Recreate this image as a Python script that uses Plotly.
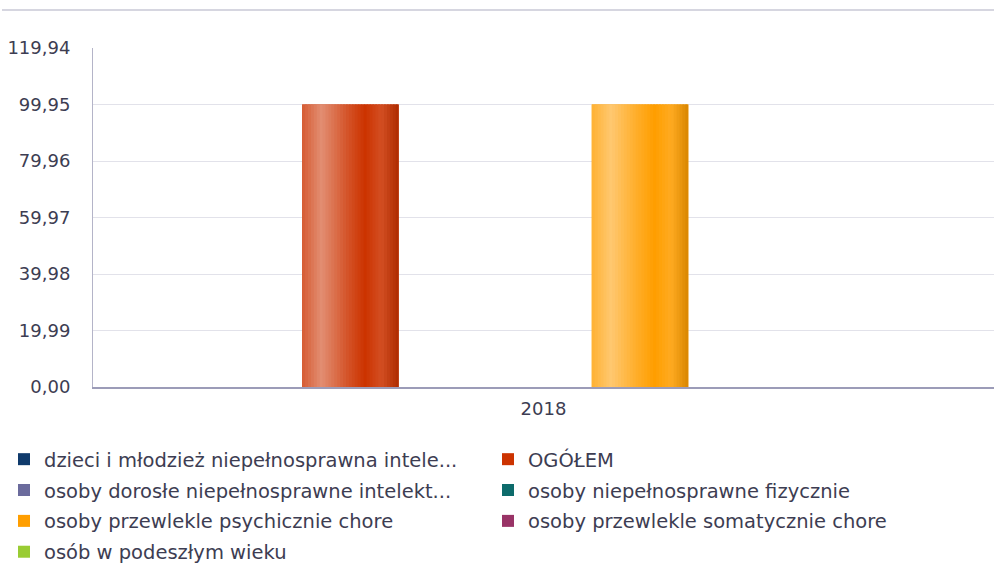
import plotly.graph_objects as go

# --- data -------------------------------------------------------------
categories = ["2018"]
series_names = [
    "dzieci i młodzież niepełnosprawna intele...",
    "OGÓŁEM",
    "osoby dorosłe niepełnosprawne intelekt...",
    "osoby niepełnosprawne fizycznie",
    "osoby przewlekle psychicznie chore",
    "osoby przewlekle somatycznie chore",
    "osób w podeszłym wieku",
]
values_2018 = [None, 99.95, None, None, 99.95, None, None]
y_ticks = [0.00, 19.99, 39.98, 59.97, 79.96, 99.95, 119.94]

# --- styling ----------------------------------------------------------
base_colors = ["#0f3a6b", "#cc3300", "#6b6b9c", "#0d6b6b", "#ff9e00", "#993366", "#99cc33"]
light_colors = ["#6a8ab0", "#e28e72", "#aaaacc", "#5aa0a0", "#ffc870", "#c47aa0", "#c4e480"]

FONT = "DejaVu Sans"
TEXT = "#3d3d52"
L, R, T, B = 93, 0, 48, 180
W, H = 994, 567
PW, PH = W - L - R, H - T - B


def hex2rgb(h):
    h = h.lstrip("#")
    return [int(h[i:i + 2], 16) for i in (0, 2, 4)]


def mix(c1, c2, t):
    return [c1[i] + (c2[i] - c1[i]) * t for i in range(3)]


def shade(base, light, pos):
    """Cylinder-like horizontal shading across a bar (pos in 0..1)."""
    b, l, k = hex2rgb(base), hex2rgb(light), [0, 0, 0]
    stops = [
        (0.00, mix(b, l, 0.45)),
        (0.20, l),
        (0.45, mix(b, l, 0.40)),
        (0.65, b),
        (0.82, mix(b, l, 0.30)),
        (1.00, mix(b, k, 0.15)),
    ]
    for (p0, c0), (p1, c1) in zip(stops, stops[1:]):
        if p0 <= pos <= p1:
            c = mix(c0, c1, (pos - p0) / (p1 - p0))
            return "rgb(%d,%d,%d)" % tuple(round(v) for v in c)
    return base


n = len(series_names)
group_w = 0.75
slot = group_w / n
slices = 33

fig = go.Figure()

for i, (name, base, light) in enumerate(zip(series_names, base_colors, light_colors)):
    left = -group_w / 2 + i * slot
    col = i % 2
    fig.add_trace(go.Bar(
        x=categories, y=[values_2018[i]], name=name,
        width=[slot], offset=[left],
        marker=dict(color=base, line=dict(width=0)),
        legend="legend" if col == 0 else "legend2",
        legendgroup="g%d" % i,
        hoverinfo="skip",
    ))
    if values_2018[i] is None:
        continue
    step = slot / slices
    for k in range(slices):
        last = k == slices - 1
        fig.add_trace(go.Bar(
            x=categories, y=[values_2018[i]],
            width=[step * (1.0 if last else 1.6)], offset=[left + k * step],
            marker=dict(color=shade(base, light, (k + 0.5) / slices), line=dict(width=0)),
            showlegend=False, hoverinfo="skip",
        ))

legend_font = dict(family=FONT, size=19.5, color=TEXT)
leg_top = 1 - 440 / H

fig.update_layout(
    width=W, height=H,
    margin=dict(l=L, r=R, t=T, b=B, autoexpand=False),
    paper_bgcolor="white", plot_bgcolor="white",
    barmode="overlay",
    separators=",.",
    font=dict(family=FONT, color=TEXT),
    legend=dict(
        xref="container", yref="container",
        x=4 / W, xanchor="left", y=leg_top, yanchor="top",
        font=legend_font, tracegroupgap=2.5, traceorder="grouped",
        bgcolor="rgba(0,0,0,0)",
    ),
    legend2=dict(
        xref="container", yref="container",
        x=488 / W, xanchor="left", y=leg_top, yanchor="top",
        font=legend_font, tracegroupgap=2.5, traceorder="grouped",
        bgcolor="rgba(0,0,0,0)",
    ),
    xaxis=dict(
        type="category", range=[-0.5, 0.5],
        showgrid=False, showline=True, linecolor="#9c9cb8", linewidth=1.5,
        ticks="", tickfont=dict(family=FONT, size=18, color=TEXT),
        ticklabelstandoff=5,
    ),
    yaxis=dict(
        range=[0, y_ticks[-1]],
        tickvals=y_ticks, tickformat=".2f",
        showgrid=True, gridcolor="#e2e2ea", gridwidth=1,
        showline=True, linecolor="#b4b4c8", linewidth=1,
        zeroline=False, ticks="",
        tickfont=dict(family=FONT, size=18, color=TEXT),
        ticklabelstandoff=18,
    ),
    shapes=[dict(
        type="line", xref="paper", yref="paper",
        x0=(2 - L) / PW, x1=1, y0=1 + (T - 10) / PH, y1=1 + (T - 10) / PH,
        line=dict(color="#d6d6e0", width=2),
    )],
)

fig.write_html("out.html")
